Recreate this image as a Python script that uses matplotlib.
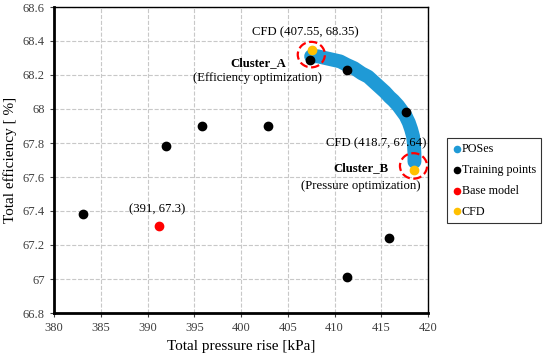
import matplotlib.pyplot as plt
from matplotlib.patches import Ellipse

plt.rcParams['font.family'] = ['Liberation Serif', 'DejaVu Serif']

# POSes (Pareto front)
pos_x = [407.5, 408.2, 409.0, 409.8, 410.6, 411.3, 412.1, 412.9, 413.6, 414.2,
         414.8, 415.4, 415.9, 416.3, 416.8, 417.2, 417.6, 417.95, 418.2, 418.4,
         418.5, 418.55, 418.55]
pos_y = [68.31, 68.31, 68.30, 68.29, 68.28, 68.26, 68.24, 68.21, 68.19, 68.16,
         68.13, 68.10, 68.07, 68.05, 68.02, 67.99, 67.96, 67.92, 67.88, 67.84,
         67.79, 67.74, 67.69]

train_x = [383.1, 392.0, 395.8, 402.9, 407.4, 411.3, 417.7, 415.8, 411.3]
train_y = [67.38, 67.78, 67.90, 67.90, 68.29, 68.23, 67.98, 67.24, 67.01]

base_x = [391.2]
base_y = [67.31]

cfd_x = [407.55, 418.55]
cfd_y = [68.35, 67.64]

fig = plt.figure(figsize=(5.5, 3.63), dpi=100)
ax = fig.add_axes([54 / 550, 1 - 313 / 363, 374 / 550, 306 / 363])

ax.plot(pos_x, pos_y, color='#1f9ad6', lw=10, solid_capstyle='round', zorder=2)
ax.scatter([], [], color='#1f9ad6', s=20, label='POSes')
ax.scatter(train_x, train_y, color='black', s=36, zorder=3, label='Training points')
ax.scatter(base_x, base_y, color='#ff0000', s=36, zorder=3, label='Base model')
ax.scatter(cfd_x, cfd_y, color='#ffc000', s=36, zorder=4, label='CFD')

# red dashed circles around the clusters
for cx, cy in [(407.52, 68.32), (418.45, 67.665)]:
    ax.add_patch(Ellipse((cx, cy), 2.9, 0.15, fill=False, ec='red', ls='--',
                         lw=1.6, zorder=5, clip_on=False))

ax.text(406.9, 68.45, 'CFD (407.55, 68.35)', fontsize=9.2, ha='center', va='center')
ax.text(401.8, 68.27, 'Cluster_A', fontsize=9.2, weight='bold', ha='center', va='center')
ax.text(401.8, 68.18, '(Efficiency optimization)', fontsize=9.2, ha='center', va='center')
ax.text(414.5, 67.80, 'CFD (418.7, 67.64)', fontsize=9.2, ha='center', va='center')
ax.text(412.8, 67.65, 'Cluster_B', fontsize=9.2, weight='bold', ha='center', va='center')
ax.text(412.8, 67.55, '(Pressure optimization)', fontsize=9.2, ha='center', va='center')
ax.text(391.0, 67.41, '(391, 67.3)', fontsize=9.2, ha='center', va='center')

ax.set_xlim(380, 420)
ax.set_ylim(66.8, 68.6)
ax.set_xticks(range(380, 421, 5))
ax.set_yticks([66.8, 67, 67.2, 67.4, 67.6, 67.8, 68, 68.2, 68.4, 68.6])
ax.set_yticklabels(['66.8', '67', '67.2', '67.4', '67.6', '67.8', '68', '68.2', '68.4', '68.6'])
ax.tick_params(labelsize=9, colors='#404040', length=3)
ax.grid(True, ls='--', color='#c8c8c8', lw=0.8)
ax.set_axisbelow(True)
ax.set_xlabel('Total pressure rise [kPa]', fontsize=11)
ax.set_ylabel('Total efficiency [ %]', fontsize=11)
ax.spines['left'].set_linewidth(2)
ax.spines['bottom'].set_linewidth(2)
ax.spines['top'].set_linewidth(1)
ax.spines['right'].set_linewidth(1)

leg = ax.legend(loc='upper left', bbox_to_anchor=(447 / 550, 1 - 138 / 363),
                bbox_transform=fig.transFigure, fontsize=8.7, frameon=True,
                fancybox=False, edgecolor='black', handletextpad=0.05,
                handlelength=0.7, borderpad=0.45, labelspacing=0.72,
                borderaxespad=0)
leg.get_frame().set_linewidth(0.8)
for h in leg.legend_handles:
    h.set_sizes([20])

fig.savefig('out.png', dpi=100)
